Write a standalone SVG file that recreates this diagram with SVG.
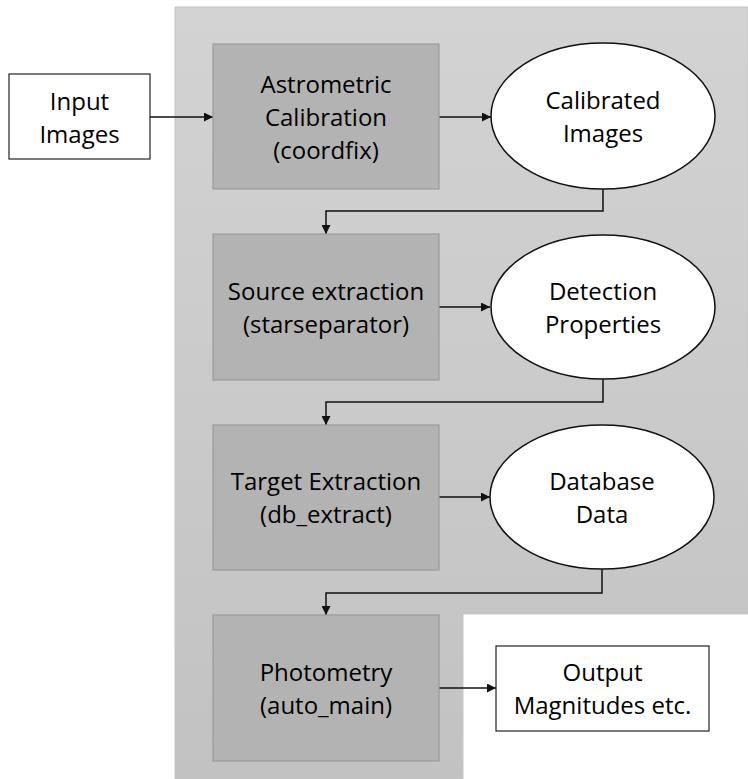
<svg xmlns="http://www.w3.org/2000/svg" width="748" height="779" viewBox="0 0 748 779">
  <style>
    .lbl { font-family: "Open Sans", "Liberation Sans", sans-serif; font-size: 24px; fill: #000; text-anchor: middle; }
    .proc { fill: #b3b3b3; stroke: #9a9a9a; stroke-width: 1.2; }
    .data { fill: #ffffff; stroke: #111; stroke-width: 1.5; }
    .io { fill: #ffffff; stroke: #222; stroke-width: 1.2; }
    .conn { fill: none; stroke: #111; stroke-width: 1.5; }
  </style>
  <defs>
    <linearGradient id="panelFill" x1="0" y1="0" x2="0" y2="1">
      <stop offset="0" stop-color="#d3d3d3"/>
      <stop offset="1" stop-color="#c2c2c2"/>
    </linearGradient>
    <marker id="arrow" viewBox="0 0 10 10" refX="10" refY="5" markerWidth="10" markerHeight="9" markerUnits="userSpaceOnUse" orient="auto">
      <path d="M0,0 L10,5 L0,10 Z" fill="#111"/>
    </marker>
  </defs>

  <rect width="748" height="779" fill="#ffffff"/>

  <!-- pipeline panel -->
  <path id="panel" d="M175,7 H748 V614 H463 V779 H175 Z" fill="url(#panelFill)" stroke="#c6c6c6" stroke-width="1"/>

  <!-- connectors -->
  <g id="connectors">
    <path class="conn" d="M150,117 H213" marker-end="url(#arrow)"/>
    <path class="conn" d="M439,117 H491" marker-end="url(#arrow)"/>
    <path class="conn" d="M603,189 V211 H326 V234" marker-end="url(#arrow)"/>
    <path class="conn" d="M439,307 H490" marker-end="url(#arrow)"/>
    <path class="conn" d="M603,379 V402 H326 V425" marker-end="url(#arrow)"/>
    <path class="conn" d="M439,497 H490" marker-end="url(#arrow)"/>
    <path class="conn" d="M602,569 V593 H326 V615" marker-end="url(#arrow)"/>
    <path class="conn" d="M439,688 H496" marker-end="url(#arrow)"/>
  </g>

  <g id="input-images">
    <rect class="io" x="9" y="74" width="141" height="85"/>
    <text class="lbl" x="79.5" y="110">Input</text>
    <text class="lbl" x="79.5" y="143">Images</text>
  </g>

  <g id="astrometric-calibration">
    <rect class="proc" x="213" y="44" width="226" height="145"/>
    <text class="lbl" x="326" y="93">Astrometric</text>
    <text class="lbl" x="326" y="126">Calibration</text>
    <text class="lbl" x="326" y="159">(coordfix)</text>
  </g>

  <g id="calibrated-images">
    <ellipse class="data" cx="603" cy="116" rx="112" ry="73"/>
    <text class="lbl" x="603" y="109">Calibrated</text>
    <text class="lbl" x="603" y="142">Images</text>
  </g>

  <g id="source-extraction">
    <rect class="proc" x="213" y="234" width="226" height="146"/>
    <text class="lbl" x="326" y="300">Source extraction</text>
    <text class="lbl" x="326" y="333">(starseparator)</text>
  </g>

  <g id="detection-properties">
    <ellipse class="data" cx="603" cy="307" rx="112" ry="72"/>
    <text class="lbl" x="603" y="300">Detection</text>
    <text class="lbl" x="603" y="333">Properties</text>
  </g>

  <g id="target-extraction">
    <rect class="proc" x="213" y="425" width="226" height="145"/>
    <text class="lbl" x="326" y="490">Target Extraction</text>
    <text class="lbl" x="326" y="523">(db_extract)</text>
  </g>

  <g id="database-data">
    <ellipse class="data" cx="602" cy="497" rx="112" ry="72"/>
    <text class="lbl" x="602" y="490">Database</text>
    <text class="lbl" x="602" y="523">Data</text>
  </g>

  <g id="photometry">
    <rect class="proc" x="213" y="615" width="226" height="146"/>
    <text class="lbl" x="326" y="681">Photometry</text>
    <text class="lbl" x="326" y="714">(auto_main)</text>
  </g>

  <g id="output-magnitudes">
    <rect class="io" x="496" y="646" width="213" height="85"/>
    <text class="lbl" x="602.5" y="681">Output</text>
    <text class="lbl" x="602.5" y="714">Magnitudes etc.</text>
  </g>
</svg>
